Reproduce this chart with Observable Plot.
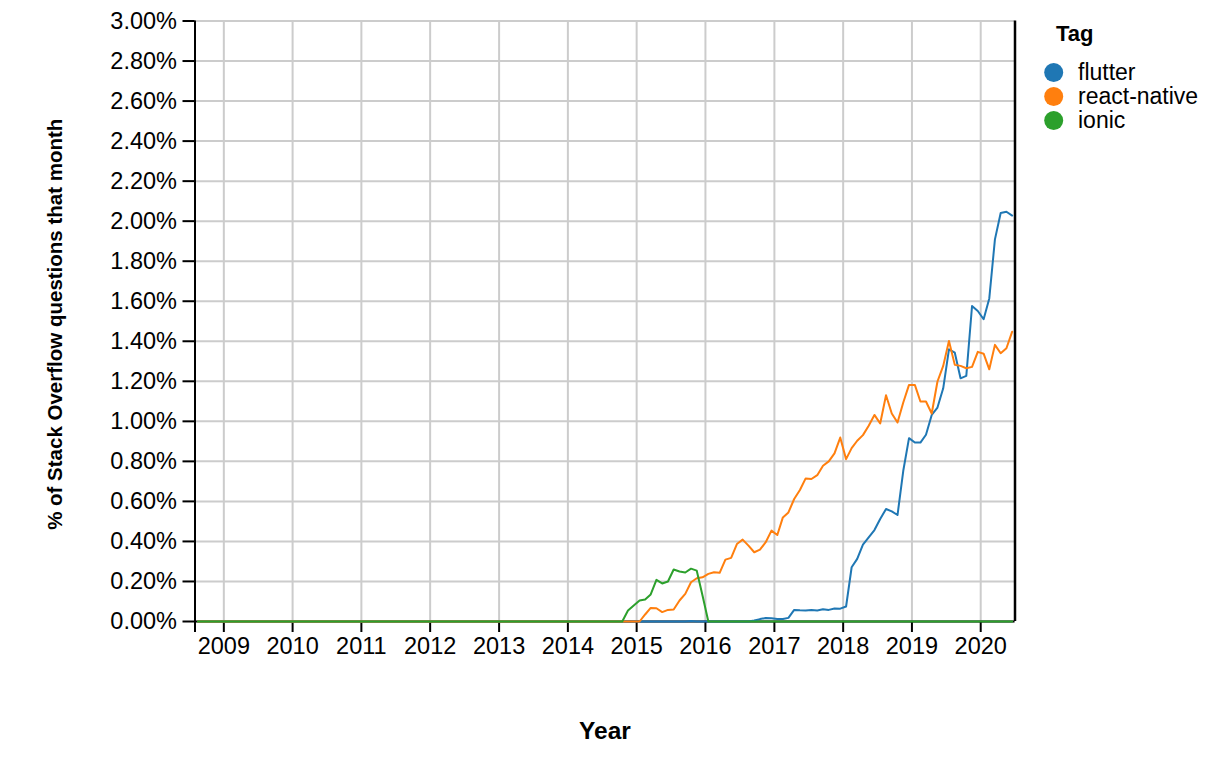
<!DOCTYPE html>
<html>
<head>
<meta charset="utf-8">
<script src="https://cdn.jsdelivr.net/npm/d3@7"></script>
<script src="https://cdn.jsdelivr.net/npm/@observablehq/plot@0.6"></script>
<style>
  html, body { margin: 0; padding: 0; background: #fff; }
  #wrap { position: relative; width: 1220px; height: 758px; font-family: "Liberation Sans", Arial, Helvetica, sans-serif; }
  #legend { position: absolute; left: 1030px; top: 0; }
</style>
</head>
<body>
<div id="wrap"></div>
<script>
// ---- data (monthly share of Stack Overflow questions, in %) ----
const tags = ["flutter", "react-native", "ionic"];
const colors = ["#1f77b4", "#ff7f0e", "#2ca02c"];
const firstMonth = new Date(Date.UTC(2008, 7, 1));   // Aug 2008
const domainEnd = new Date(Date.UTC(2020, 6, 1));    // Jul 2020
const yTicks = [0, 0.2, 0.4, 0.6, 0.8, 1.0, 1.2, 1.4, 1.6, 1.8, 2.0, 2.2, 2.4, 2.6, 2.8, 3.0];
const yearTicks = ["2009","2010","2011","2012","2013","2014","2015","2016","2017","2018","2019","2020"];

const flutter = [
  /*2008*/ 0, 0, 0, 0, 0,
  /*2009*/ 0, 0, 0, 0, 0, 0, 0, 0, 0, 0, 0, 0,
  /*2010*/ 0, 0, 0, 0, 0, 0, 0, 0, 0, 0, 0, 0,
  /*2011*/ 0, 0, 0, 0, 0, 0, 0, 0, 0, 0, 0, 0,
  /*2012*/ 0, 0, 0, 0, 0, 0, 0, 0, 0, 0, 0, 0,
  /*2013*/ 0, 0, 0, 0, 0, 0, 0, 0, 0, 0, 0, 0,
  /*2014*/ 0, 0, 0, 0, 0, 0, 0, 0, 0, 0, 0, 0,
  /*2015*/ 0, 0, 0, 0, 0, 0, 0, 0, 0, 0.003, 0, 0,
  /*2016*/ 0, 0, 0, 0, 0, 0, 0, 0, 0.005, 0.012, 0.018, 0.016,
  /*2017*/ 0.012, 0.012, 0.018, 0.058, 0.056, 0.055, 0.057, 0.055, 0.061, 0.058, 0.065, 0.064,
  /*2018*/ 0.075, 0.271, 0.313, 0.384, 0.42, 0.457, 0.512, 0.562, 0.55, 0.532, 0.753, 0.916,
  /*2019*/ 0.894, 0.894, 0.933, 1.032, 1.069, 1.165, 1.36, 1.343, 1.215, 1.227, 1.576, 1.551,
  /*2020*/ 1.51, 1.614, 1.909, 2.041, 2.047, 2.028
];
const reactNative = [
  /*2008*/ 0, 0, 0, 0, 0,
  /*2009*/ 0, 0, 0, 0, 0, 0, 0, 0, 0, 0, 0, 0,
  /*2010*/ 0, 0, 0, 0, 0, 0, 0, 0, 0, 0, 0, 0,
  /*2011*/ 0, 0, 0, 0, 0, 0, 0, 0, 0, 0, 0, 0,
  /*2012*/ 0, 0, 0, 0, 0, 0, 0, 0, 0, 0, 0, 0,
  /*2013*/ 0, 0, 0, 0, 0, 0, 0, 0, 0, 0, 0, 0,
  /*2014*/ 0, 0, 0, 0, 0, 0, 0, 0, 0, 0, 0, 0,
  /*2015*/ 0, 0.035, 0.068, 0.066, 0.047, 0.058, 0.06, 0.105, 0.138, 0.196, 0.216, 0.221,
  /*2016*/ 0.238, 0.246, 0.243, 0.309, 0.318, 0.387, 0.409, 0.379, 0.346, 0.359, 0.396, 0.454,
  /*2017*/ 0.432, 0.52, 0.545, 0.612, 0.657, 0.715, 0.712, 0.731, 0.778, 0.80, 0.84, 0.919,
  /*2018*/ 0.811, 0.866, 0.903, 0.931, 0.978, 1.032, 0.989, 1.13, 1.039, 0.994, 1.094, 1.182,
  /*2019*/ 1.182, 1.099, 1.099, 1.039, 1.199, 1.277, 1.401, 1.282, 1.277, 1.265, 1.272, 1.347,
  /*2020*/ 1.338, 1.26, 1.382, 1.34, 1.365, 1.448
];
const ionic = [
  /*2008*/ 0, 0, 0, 0, 0,
  /*2009*/ 0, 0, 0, 0, 0, 0, 0, 0, 0, 0, 0, 0,
  /*2010*/ 0, 0, 0, 0, 0, 0, 0, 0, 0, 0, 0, 0,
  /*2011*/ 0, 0, 0, 0, 0, 0, 0, 0, 0, 0, 0, 0,
  /*2012*/ 0, 0, 0, 0, 0, 0, 0, 0, 0, 0, 0, 0,
  /*2013*/ 0, 0, 0, 0, 0, 0, 0, 0, 0, 0, 0, 0,
  /*2014*/ 0, 0, 0, 0, 0, 0, 0, 0, 0, 0, 0.055, 0.08,
  /*2015*/ 0.105, 0.11, 0.135, 0.208, 0.19, 0.20, 0.26, 0.25, 0.245, 0.264, 0.254, 0.13,
  /*2016*/ 0, 0, 0, 0, 0, 0, 0, 0, 0, 0, 0, 0,
  /*2017*/ 0, 0, 0, 0, 0, 0, 0, 0, 0, 0, 0, 0,
  /*2018*/ 0, 0, 0, 0, 0, 0, 0, 0, 0, 0, 0, 0,
  /*2019*/ 0, 0, 0, 0, 0, 0, 0, 0, 0, 0, 0, 0,
  /*2020*/ 0, 0, 0, 0, 0, 0
];
const series = [flutter, reactNative, ionic];

// ---- build table ----
const months = d3.utcMonth.range(firstMonth, domainEnd);
const midMonth = d => new Date((+d + +d3.utcMonth.offset(d, 1)) / 2);
const rows = tags.flatMap((tag, i) =>
  series[i].map((v, j) => ({ tag, date: midMonth(months[j]), value: v })));
const yearDates = yearTicks.map(y => new Date(Date.UTC(+y, 0, 1)));

const FONT = "Liberation Sans, Arial, Helvetica, sans-serif";

const chart = Plot.plot({
  width: 1220,
  height: 758,
  marginLeft: 194.5,
  marginRight: 205.5,
  marginTop: 20.5,
  marginBottom: 137,
  style: { fontFamily: FONT, fontSize: "23.5px", color: "#000", background: "transparent", overflow: "visible" },
  x: { type: "utc", domain: [firstMonth, domainEnd], label: null },
  y: { domain: [0, 3], label: null },
  color: { domain: tags, range: colors },
  marks: [
    Plot.gridX(yearDates, { stroke: "#cccccc", strokeOpacity: 1, strokeWidth: 2 }),
    Plot.gridY(yTicks, { stroke: "#cccccc", strokeOpacity: 1, strokeWidth: 2 }),
    Plot.axisX(yearDates, {
      tickSize: 11, tickPadding: 5, strokeWidth: 2, stroke: "#000",
      tickFormat: d3.utcFormat("%Y"), label: null
    }),
    Plot.axisY(yTicks, {
      tickSize: 12, tickPadding: 6, strokeWidth: 2, stroke: "#000",
      tickFormat: d => d.toFixed(2) + "%", label: null
    }),
    Plot.ruleY([0], { stroke: "#000", strokeWidth: 2 }),
    Plot.ruleX([firstMonth], { stroke: "#000", strokeWidth: 2, insetBottom: -11 }),
    Plot.ruleX([domainEnd], { stroke: "#000", strokeWidth: 2.5 }),
    Plot.lineY(rows, { x: "date", y: "value", z: "tag", stroke: "tag", strokeWidth: 2 }),
    Plot.text(["% of Stack Overflow questions that month"], {
      frameAnchor: "left", textAnchor: "middle", lineAnchor: "middle",
      rotate: -90, dx: -139.5, dy: 3,
      fontWeight: "bold", fontSize: 20.5, fill: "#000"
    }),
    Plot.text(["Year"], {
      frameAnchor: "bottom", textAnchor: "middle", lineAnchor: "middle",
      dy: 109.5,
      fontWeight: "bold", fontSize: 24.5, fill: "#000"
    })
  ]
});

const wrap = document.getElementById("wrap");
wrap.appendChild(chart);
chart.style.position = "absolute";
chart.style.left = "0";
chart.style.top = "0";

// ---- legend ----
const legend = d3.select(wrap).append("svg")
  .attr("id", "legend")
  .attr("width", 190).attr("height", 140)
  .style("font-family", FONT);
legend.append("text")
  .attr("x", 26).attr("y", 40.5)
  .attr("font-weight", "bold").attr("font-size", 22)
  .text("Tag");
const items = legend.selectAll("g.item").data(tags).join("g")
  .attr("class", "item")
  .attr("transform", (d, i) => `translate(0,${72.5 + i * 24})`);
items.append("circle")
  .attr("cx", 23.7).attr("cy", 0).attr("r", 9.5)
  .attr("fill", (d, i) => colors[i]);
items.append("text")
  .attr("x", 48).attr("y", 7.8)
  .attr("font-size", 23)
  .text(d => d);
</script>
</body>
</html>
